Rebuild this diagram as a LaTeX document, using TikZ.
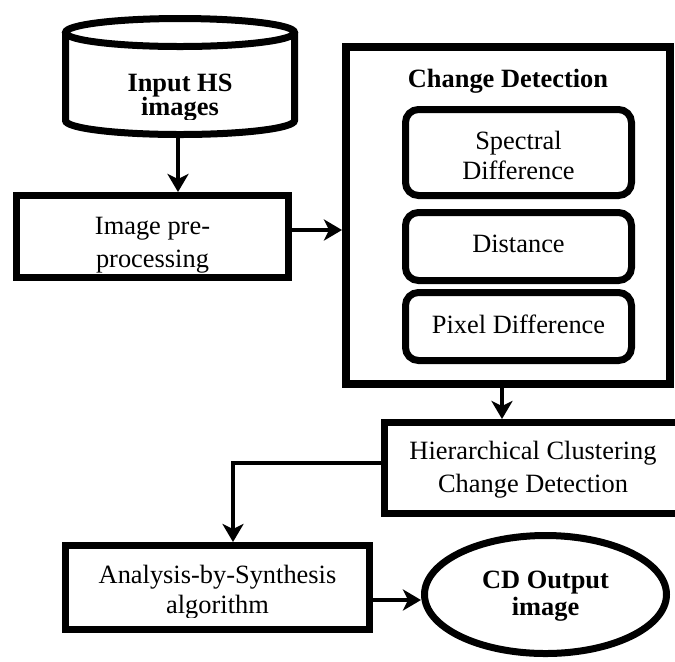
\documentclass[tikz,border=0pt]{standalone}
\usepackage{fontspec}
\setmainfont{Liberation Serif}
\usetikzlibrary{arrows.meta,calc,shapes.geometric}
% lengths given in drawing units (half points)
\newcommand\pxl[1]{#1*0.5pt}
\begin{document}
\begin{tikzpicture}[x=0.5pt,y=-0.5pt,
  txt/.style={anchor=base,inner sep=0pt,font=\fontsize{13.2}{15}\selectfont},
  btxt/.style={anchor=base,inner sep=0pt,font=\fontsize{13.2}{15}\selectfont\bfseries},
  box/.style={draw,rectangle,line width=3.5pt,inner sep=0pt},
  rbox/.style={box,rounded corners=6.5pt},
  flow/.style={line width=2pt,-{Stealth[length=9pt,width=10.5pt,inset=2.5pt]}}]
\clip (0,0) rectangle (675,661);

% ---- labels (set first so the frames sit on top of them)
\begin{scope}
  \clip (60,50) rectangle (300,119);
  \node[btxt] (inl1) at (180,91) {Input HS};
  \node[btxt] (inl2) at (180,115) {images};
\end{scope}
\node[txt] (ipl1) at (152.5,234) {Image pre-};
\node[txt] (ipl2) at (152.5,267) {processing};
\node[btxt] (cdl) at (508,87) {Change Detection};
\node[txt] (sdl1) at (518.5,149) {Spectral};
\node[txt] (sdl2) at (518.5,179) {Difference};
\node[txt] (dml) at (518.5,252) {Distance};
\node[txt] (pdl) at (518.5,333) {Pixel Difference};
\node[txt] (hcl1) at (533,459) {Hierarchical Clustering};
\node[txt] (hcl2) at (533,492) {Change Detection};
\begin{scope}
  \clip (60,550) rectangle (370,617);
  \node[txt] (asl1) at (217.5,583) {Analysis-by-Synthesis};
  \node[txt] (asl2) at (217.5,613) {algorithm};
\end{scope}
\node[btxt] (col1) at (545.5,588) {CD Output};
\node[btxt] (col2) at (545.5,615) {image};

% ---- input data store (cylinder)
\draw[line width=3.5pt] (180,32.5) ellipse [x radius=57.25pt, y radius=7pt];
\draw[line width=3.5pt] (65.5,32.5) -- (65.5,120.5)
  arc[start angle=180, end angle=360, x radius=57.25pt, y radius=7pt] -- (294.5,32.5);
\coordinate (cylbot) at (178,138);

% ---- process boxes
\node[box,minimum width=\pxl{272},minimum height=\pxl{82}] (ipp) at (152.5,236.5) {};
\node[box,line width=4pt,minimum width=\pxl{324},minimum height=\pxl{337}] (cd) at (508,215.5) {};
\node[rbox,minimum width=\pxl{226},minimum height=\pxl{86}] (sd) at (518.5,152.5) {};
\node[rbox,minimum width=\pxl{226},minimum height=\pxl{68}] (dm) at (518.5,246.5) {};
\node[rbox,minimum width=\pxl{226},minimum height=\pxl{68}] (pd) at (518.5,326.5) {};
\node[box,minimum width=\pxl{306},minimum height=\pxl{91}] (hcd) at (537,468) {};
\node[box,minimum width=\pxl{304},minimum height=\pxl{84}] (asa) at (217.5,587.5) {};
\node[draw,ellipse,line width=3.5pt,inner sep=0pt,minimum width=\pxl{242},minimum height=\pxl{118}] (cdout) at (545.5,594.5) {};

% ---- connectors
\draw[flow] (cylbot) -- (cylbot |- ipp.north);
\draw[flow] ($(ipp.east)+(0,-6.5)$) coordinate (e1) -- (e1 -| cd.west);
\draw[flow] ($(cd.south)+(-6,0)$) coordinate (e2) -- (e2 |- hcd.north);
\draw[flow] ($(hcd.west)+(0,-5)$) -| ($(asa.north)+(15.5,0)$);
\draw[flow] ($(asa.east)+(0,12.5)$) coordinate (e3) -- (e3 -| cdout.west);
\end{tikzpicture}
\end{document}
